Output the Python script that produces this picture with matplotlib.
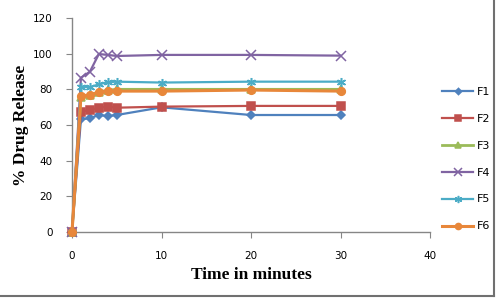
import matplotlib
matplotlib.use('Agg')
import matplotlib.pyplot as plt
from matplotlib.lines import Line2D

# data
time = [0, 1, 2, 3, 4, 5, 10, 20, 30]
f1 = [0, 63.2, 63.8, 65.6, 65.0, 65.6, 69.9, 65.6, 65.6]
f2 = [0, 67.5, 68.4, 69.7, 70.3, 69.7, 70.3, 70.7, 70.7]
f3 = [0, 75.5, 77.0, 78.5, 79.5, 80.0, 80.0, 80.0, 80.0]
f4 = [0, 86.5, 89.9, 99.8, 99.3, 98.7, 99.3, 99.3, 98.9]
f5 = [0, 81.5, 81.2, 82.8, 84.0, 84.3, 83.8, 84.3, 84.3]
f6 = [0, 76.3, 76.8, 78.4, 79.0, 79.0, 79.0, 79.6, 79.0]

labels = ['F1', 'F2', 'F3', 'F4', 'F5', 'F6']
series = [f1, f2, f3, f4, f5, f6]
colors = ['#4F81BD', '#C0504D', '#9BBB59', '#8064A2', '#4BACC6', '#E8873A']
markers = ['D', 's', '^', 'x', (6, 2, 0), 'o']
msizes = [4, 5.5, 5.5, 6.5, 6.5, 5.5]
lws = [1.6, 1.6, 2.0, 1.6, 1.6, 2.2]

fig = plt.figure(figsize=(5, 3), dpi=100)
ax = fig.add_axes([0.144, 0.2267, 0.716, 0.7133])

for y, lab, c, m, ms, lw in zip(series, labels, colors, markers, msizes, lws):
    ax.plot(time, y, color=c, marker=m, markersize=ms, linewidth=lw,
            markeredgewidth=1.1, label=lab, clip_on=False, zorder=3)

ax.set_xlim(0, 40)
ax.set_ylim(0, 120)
ax.set_xticks([0, 10, 20, 30, 40])
ax.set_yticks(range(0, 121, 20))

for s in ['top', 'right']:
    ax.spines[s].set_visible(False)
for s in ['left', 'bottom']:
    ax.spines[s].set_color('#868686')
    ax.spines[s].set_linewidth(1.0)
ax.tick_params(direction='out', length=4, color='#868686', labelsize=7.5)
ax.tick_params(axis='x', pad=10)
ax.tick_params(axis='y', pad=10)

ax.set_xlabel('Time in minutes', fontfamily='Liberation Serif', fontweight='bold',
              fontsize=12.5, labelpad=4)
ax.set_ylabel('% Drug Release', fontfamily='Liberation Serif', fontweight='bold',
              fontsize=12.5, labelpad=3)

leg = ax.legend(loc='upper left', bbox_to_anchor=(0.875, 0.725), bbox_transform=fig.transFigure,
                frameon=False, fontsize=8, handlelength=2.8, handletextpad=0.3,
                labelspacing=1.52, borderaxespad=0, markerscale=0.8)

# outer chart frame (right and bottom edges visible)
fig.add_artist(Line2D([0.988, 0.988], [0.015, 1.0], transform=fig.transFigure,
                      color='#707070', linewidth=1.5))
fig.add_artist(Line2D([0.0, 0.988], [0.015, 0.015], transform=fig.transFigure,
                      color='#707070', linewidth=1.5))

fig.savefig('out.png', dpi=100)
